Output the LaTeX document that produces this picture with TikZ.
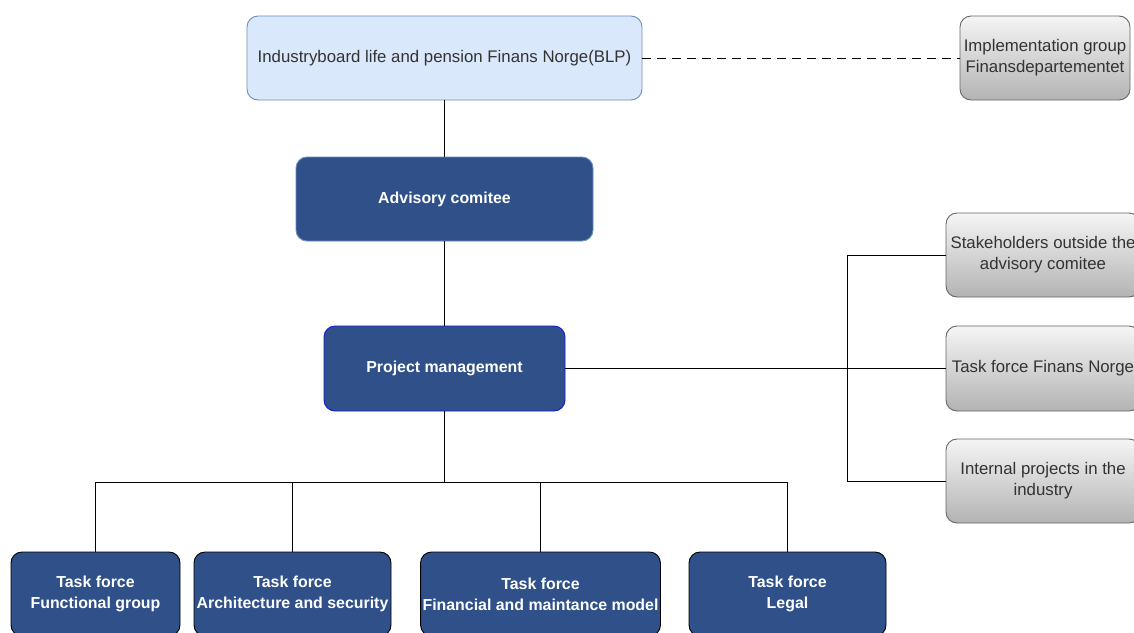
\documentclass[tikz,border=0pt]{standalone}
\usepackage{fontspec}
\setmainfont{Liberation Sans}
\definecolor{lblue}{HTML}{DAE8FC}
\definecolor{lbluestroke}{HTML}{6C8EBF}
\definecolor{dblue}{HTML}{2F5089}
\definecolor{pmstroke}{HTML}{1A1ACC}
\definecolor{txtgray}{HTML}{333333}
\definecolor{graytop}{HTML}{F5F5F5}
\definecolor{graybot}{HTML}{B3B3B3}
\definecolor{graystroke}{HTML}{666666}
\tikzset{
  box/.style={rectangle, rounded corners=11pt, align=center, inner sep=2pt, line width=0.9pt},
  topbox/.style={box, fill=lblue, draw=lbluestroke, text=txtgray, font=\fontsize{16.8}{21}\selectfont},
  darkbox/.style={box, fill=dblue, draw=lbluestroke, text=white, font=\bfseries\fontsize{15.9}{21}\selectfont},
  graybox/.style={box, top color=graytop, bottom color=graybot, draw=graystroke, text=txtgray, font=\fontsize{16.8}{21}\selectfont},
  conn/.style={line width=1pt, draw=black}
}
\begin{document}
\begin{tikzpicture}[x=1pt,y=-1pt]
\useasboundingbox (0,0) rectangle (1134,632);
\clip (0,0) rectangle (1134,632);
\fill[white] (0,0) rectangle (1134,632);
% nodes
\node[topbox, minimum width=395pt, minimum height=84pt] (blp) at (444.5,58) {Industryboard life and pension Finans Norge(BLP)};
\node[graybox, minimum width=170pt, minimum height=84pt] (impl) at (1045,58) {Implementation group\\Finansdepartementet};
\node[darkbox, minimum width=297pt, minimum height=84pt] (adv) at (444.5,199) {Advisory comitee};
\node[darkbox, draw=pmstroke, minimum width=241pt, minimum height=85pt] (pm) at (444.5,368.5) {Project management};
\node[graybox, minimum width=194pt, minimum height=84pt] (stake) at (1043,255) {Stakeholders outside the\\advisory comitee};
\node[graybox, minimum width=194pt, minimum height=85pt] (tfn) at (1043,368.5) {Task force Finans Norge};
\node[graybox, minimum width=194pt, minimum height=84pt] (intp) at (1043,481) {Internal projects in the\\industry};
\node[darkbox, draw=black, minimum width=169pt, minimum height=84pt] (tf1) at (95.5,594) {Task force\\Functional group};
\node[darkbox, draw=black, minimum width=197pt, minimum height=84pt] (tf2) at (292.5,594) {Task force\\Architecture and security};
\node[darkbox, draw=black, minimum width=239pt, minimum height=84pt] (tf3) at (540.5,594) {Task force\\Financial and maintance model};
\node[darkbox, draw=black, minimum width=197pt, minimum height=84pt] (tf4) at (787.5,594) {Task force\\Legal};
% connectors
\coordinate (bus) at (444.5,482);
\coordinate (rbus) at (847,368.5);
\draw[conn, dashed, dash pattern=on 9pt off 6pt] (blp.east) -- (impl.west);
\draw[conn] (blp.south) -- (adv.north);
\draw[conn] (adv.south) -- (pm.north);
\draw[conn] (pm.east) -- (tfn.west);
\draw[conn] (stake.west) -| (rbus) |- (intp.west);
\draw[conn] (pm.south) -- (bus);
\draw[conn] (bus) -| (tf1.north);
\draw[conn] (bus) -| (tf2.north);
\draw[conn] (bus) -| (tf3.north);
\draw[conn] (bus) -| (tf4.north);
\end{tikzpicture}
\end{document}
